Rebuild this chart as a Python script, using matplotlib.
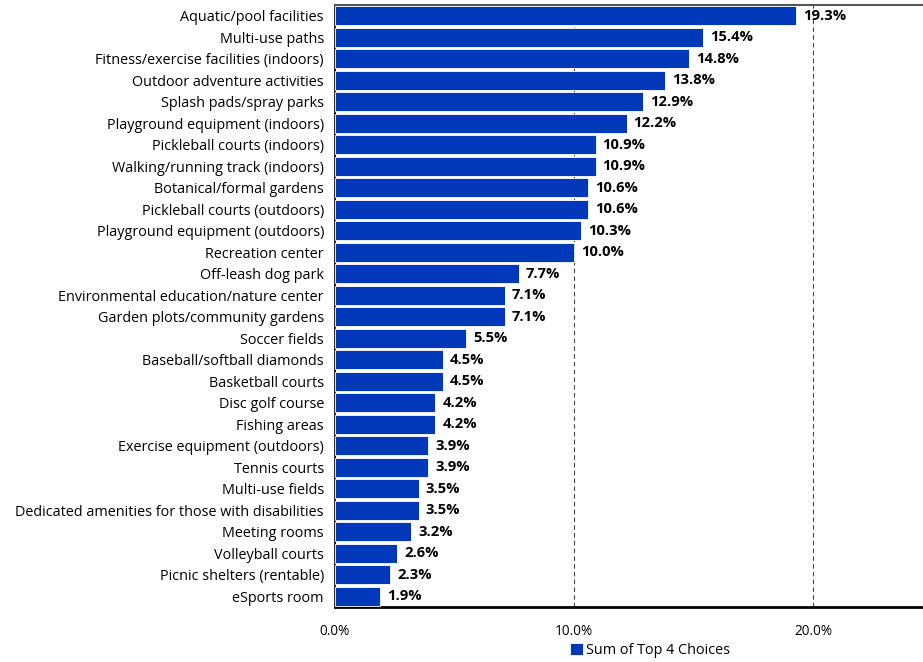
import matplotlib
matplotlib.use("Agg")
import matplotlib.pyplot as plt
from matplotlib.ticker import FuncFormatter

categories = [
    "Aquatic/pool facilities", "Multi-use paths", "Fitness/exercise facilities (indoors)",
    "Outdoor adventure activities", "Splash pads/spray parks", "Playground equipment (indoors)",
    "Pickleball courts (indoors)", "Walking/running track (indoors)", "Botanical/formal gardens",
    "Pickleball courts (outdoors)", "Playground equipment (outdoors)", "Recreation center",
    "Off-leash dog park", "Environmental education/nature center", "Garden plots/community gardens",
    "Soccer fields", "Baseball/softball diamonds", "Basketball courts", "Disc golf course",
    "Fishing areas", "Exercise equipment (outdoors)", "Tennis courts", "Multi-use fields",
    "Dedicated amenities for those with disabilities", "Meeting rooms", "Volleyball courts",
    "Picnic shelters (rentable)", "eSports room",
]
values = [19.3, 15.4, 14.8, 13.8, 12.9, 12.2, 10.9, 10.9, 10.6, 10.6, 10.3, 10.0,
          7.7, 7.1, 7.1, 5.5, 4.5, 4.5, 4.2, 4.2, 3.9, 3.9, 3.5, 3.5, 3.2, 2.6, 2.3, 1.9]
series_name = "Sum of Top 4 Choices"
xticks = [0, 10, 20]

plt.rcParams['font.family'] = ['Open Sans', 'DejaVu Sans']

W, H = 923, 662
fig = plt.figure(figsize=(W / 100, H / 100), dpi=100)
ax = fig.add_axes([335 / W, 1 - 607 / H, (W - 335) / W, (607 - 5) / H])

color = "#0038BA"
y = list(range(len(categories)))
ax.barh(y, values, height=0.9, color=color, edgecolor="white", linewidth=0.6, zorder=3,
        label=series_name)
for yi, v in zip(y, values):
    ax.annotate(f"{v:.1f}%", (v, yi), xytext=(5, 0), textcoords="offset points",
                va="center", ha="left", fontsize=10.6, fontweight="bold", color="black", zorder=4)

ax.set_ylim(len(categories) - 0.5, -0.5)
ax.set_xlim(0, (W - 335) / 23.9)
ax.set_yticks(y)
ax.set_yticklabels(categories, fontsize=10.4)
ax.set_xticks(xticks)
ax.xaxis.set_major_formatter(FuncFormatter(lambda v, p: f"{v:.1f}%"))
ax.tick_params(axis="both", length=0)
ax.tick_params(axis="x", pad=12, labelsize=9.8)
ax.tick_params(axis="y", pad=8)
ax.grid(axis="x", color="#444444", linestyle=(0, (4, 3)), linewidth=0.8, zorder=0)
ax.spines["right"].set_visible(False)
ax.spines["left"].set_color("black")
ax.spines["left"].set_linewidth(1.2)
ax.spines["bottom"].set_color("black")
ax.spines["bottom"].set_linewidth(2)
ax.spines["top"].set_color("#555555")
ax.spines["top"].set_linewidth(1.5)

fig.legend(loc="center", bbox_to_anchor=(650 / W, 1 - 650 / H), frameon=False,
           fontsize=10.4, handlelength=0.9, handleheight=0.9, handletextpad=0.2)

fig.savefig("out.png", dpi=100)
